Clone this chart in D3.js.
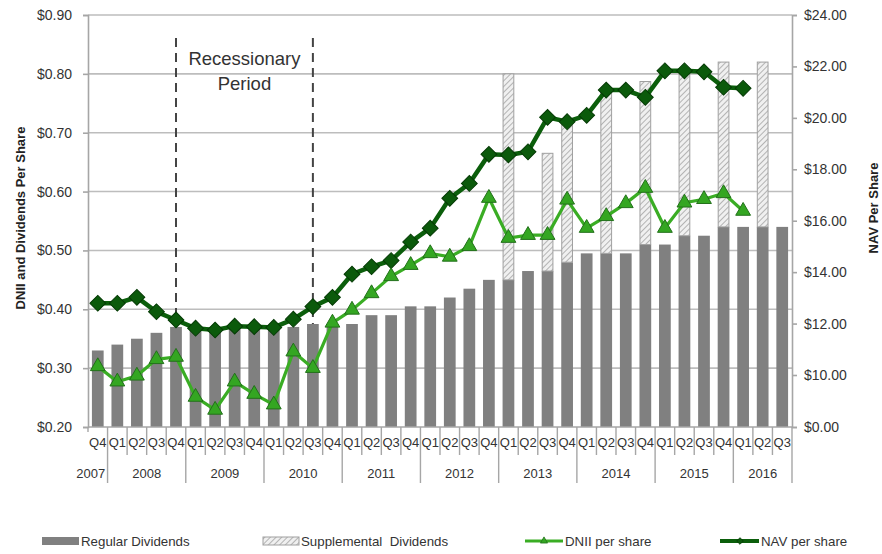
<!DOCTYPE html>
<html>
<head>
<meta charset="utf-8">
<script src="https://cdn.jsdelivr.net/npm/d3@7"></script>
<style>
  body { margin: 0; background: #fff; }
  svg { font-family: "Liberation Sans", Arial, sans-serif; }
</style>
</head>
<body>
<div id="chart"></div>
<script>
// Data
var quarters = ["Q4",
  "Q1","Q2","Q3","Q4", "Q1","Q2","Q3","Q4", "Q1","Q2","Q3","Q4",
  "Q1","Q2","Q3","Q4", "Q1","Q2","Q3","Q4", "Q1","Q2","Q3","Q4",
  "Q1","Q2","Q3","Q4", "Q1","Q2","Q3","Q4", "Q1","Q2","Q3"];
var years = ["2007","2008","2009","2010","2011","2012","2013","2014","2015","2016"];
var yearCounts = [1,4,4,4,4,4,4,4,4,3];

var regularDiv = [0.33,
  0.34,0.35,0.36,0.37, 0.37,0.37,0.37,0.37, 0.37,0.37,0.375,0.375,
  0.375,0.39,0.39,0.405, 0.405,0.42,0.435,0.45, 0.45,0.465,0.465,0.48,
  0.495,0.495,0.495,0.51, 0.51,0.525,0.525,0.54, 0.54,0.54,0.54];
var supplementalDiv = [0,
  0,0,0,0, 0,0,0,0, 0,0,0,0,
  0,0,0,0, 0,0,0,0, 0.35,0,0.20,0.24,
  0,0.275,0,0.277, 0,0.275,0,0.28, 0,0.28,0];
var dnii = [0.303,
  0.277,0.287,0.315,0.319, 0.251,0.229,0.277,0.256, 0.238,0.328,0.300,0.377,
  0.399,0.427,0.456,0.475, 0.495,0.489,0.507,0.589, 0.521,0.526,0.526,0.586,
  0.538,0.558,0.580,0.606, 0.538,0.581,0.587,0.597, 0.567];
var nav = [12.79,
  12.79,13.02,12.46,12.14, 11.82,11.75,11.90,11.88, 11.85,12.17,12.66,13.02,
  13.92,14.21,14.45,15.17, 15.71,16.87,17.45,18.58, 18.56,18.68,20.02,19.85,
  20.10,21.08,21.08,20.80, 21.83,21.83,21.79,21.19, 21.15];

var leftTicks = [0.2,0.3,0.4,0.5,0.6,0.7,0.8,0.9];
var rightTicks = [0,10,12,14,16,18,20,22,24];
var recession = [4, 11]; // 2008 Q4 to 2010 Q3

var margin = {top: 15, right: 90, bottom: 127, left: 88},
    width = 882 - margin.left - margin.right,
    height = 554 - margin.top - margin.bottom;

var svg = d3.select("#chart").append("svg")
    .attr("width", 882)
    .attr("height", 554);

var defs = svg.append("defs");
var pat = defs.append("pattern")
    .attr("id", "hatch")
    .attr("patternUnits", "userSpaceOnUse")
    .attr("width", 4).attr("height", 4)
    .attr("patternTransform", "rotate(45)");
pat.append("rect").attr("width", 4).attr("height", 4).attr("fill", "#f0f0f0");
pat.append("line").attr("x1", 0).attr("y1", 0).attr("x2", 0).attr("y2", 4)
    .attr("stroke", "#a3a3a3").attr("stroke-width", 1.6);

var g = svg.append("g")
    .attr("transform", "translate(" + margin.left + "," + margin.top + ")");

var idx = d3.range(quarters.length);
var x = d3.scaleBand().domain(idx).range([0, width]).paddingInner(0.4).paddingOuter(0.2);
var yL = d3.scaleLinear().domain([0.2, 0.9]).range([height, 0]);
// right axis is broken: $0 sits where $8 would be
var yR = d3.scaleLinear().domain([0, 10, 24]).range([height, height - 52, 0]);

// gridlines
g.append("g").selectAll("line")
    .data(leftTicks.slice(1))
    .enter().append("line")
    .attr("x1", 0).attr("x2", width)
    .attr("y1", function(d) { return yL(d); })
    .attr("y2", function(d) { return yL(d); })
    .attr("stroke", "#bdbdbd").attr("stroke-width", 1.6);

// recession dashed lines
recession.forEach(function(i) {
    g.append("line")
        .attr("x1", x(i) + x.bandwidth() / 2).attr("x2", x(i) + x.bandwidth() / 2)
        .attr("y1", 23).attr("y2", height)
        .attr("stroke", "#444").attr("stroke-width", 2)
        .attr("stroke-dasharray", "9,6");
});
var recMid = (x(recession[0]) + x(recession[1])) / 2 + x.bandwidth() / 2;
g.append("text").attr("x", recMid).attr("y", 50)
    .attr("text-anchor", "middle").style("font-size", "18.5px").style("fill", "#333")
    .text("Recessionary");
g.append("text").attr("x", recMid).attr("y", 75)
    .attr("text-anchor", "middle").style("font-size", "18.5px").style("fill", "#333")
    .text("Period");

// regular bars
g.append("g").selectAll("rect")
    .data(idx)
    .enter().append("rect")
    .attr("x", function(i) { return x(i); })
    .attr("width", x.bandwidth())
    .attr("y", function(i) { return yL(regularDiv[i]); })
    .attr("height", function(i) { return height - yL(regularDiv[i]); })
    .attr("fill", "#808080");

// supplemental bars stacked on top
g.append("g").selectAll("rect")
    .data(idx.filter(function(i) { return supplementalDiv[i] > 0; }))
    .enter().append("rect")
    .attr("x", function(i) { return x(i) + 0.5; })
    .attr("width", x.bandwidth() - 1)
    .attr("y", function(i) { return yL(regularDiv[i] + supplementalDiv[i]); })
    .attr("height", function(i) { return yL(regularDiv[i]) - yL(regularDiv[i] + supplementalDiv[i]); })
    .attr("fill", "url(#hatch)")
    .attr("stroke", "#a0a0a0").attr("stroke-width", 1);

var cx = function(i) { return x(i) + x.bandwidth() / 2; };

// DNII line
var dniiLine = d3.line().x(function(d, i) { return cx(i); }).y(function(d) { return yL(d); });
g.append("path").datum(dnii)
    .attr("d", dniiLine)
    .attr("fill", "none").attr("stroke", "#3aad24").attr("stroke-width", 3.2);

// NAV line
var navLine = d3.line().x(function(d, i) { return cx(i); }).y(function(d) { return yR(d); });
g.append("path").datum(nav)
    .attr("d", navLine)
    .attr("fill", "none").attr("stroke", "#0b5e0b").attr("stroke-width", 4.5);

// NAV diamonds
var diamond = d3.symbol().type(d3.symbolSquare).size(125);
g.append("g").selectAll("path")
    .data(nav)
    .enter().append("path")
    .attr("d", diamond)
    .attr("transform", function(d, i) { return "translate(" + cx(i) + "," + yR(d) + ") rotate(45)"; })
    .attr("fill", "#0b5a0b").attr("stroke", "#053a05").attr("stroke-width", 1);

// DNII triangles
var tri = d3.symbol().type(d3.symbolTriangle).size(95);
g.append("g").selectAll("path")
    .data(dnii)
    .enter().append("path")
    .attr("d", tri)
    .attr("transform", function(d, i) { return "translate(" + cx(i) + "," + yL(d) + ")"; })
    .attr("fill", "#34a622").attr("stroke", "#22701a").attr("stroke-width", 1);

// left axis
var axL = g.append("g")
    .call(d3.axisLeft(yL).tickValues(leftTicks).tickSize(5).tickPadding(11)
        .tickFormat(function(d) { return "$" + d3.format(".2f")(d); }));
// right axis
var axR = g.append("g")
    .attr("transform", "translate(" + width + ",0)")
    .call(d3.axisRight(yR).tickValues(rightTicks).tickSize(5).tickPadding(7)
        .tickFormat(function(d) { return "$" + d3.format(".2f")(d); }));
[axL, axR].forEach(function(a) {
    a.select(".domain").attr("stroke", "#a6a6a6").attr("stroke-width", 1.6);
    a.selectAll(".tick line").attr("stroke", "#a6a6a6").attr("stroke-width", 1.6);
    a.selectAll(".tick text").style("font-size", "14px").style("fill", "#333")
        .style("font-family", "'Liberation Sans', Arial, sans-serif");
});

// x axis line
g.append("line").attr("x1", 0).attr("x2", width).attr("y1", height).attr("y2", height)
    .attr("stroke", "#a6a6a6").attr("stroke-width", 1.6);

// quarter separators and labels
var step = x.step();
var xa = g.append("g").attr("transform", "translate(0," + height + ")");
var yearStarts = [0];
yearCounts.forEach(function(c, k) { yearStarts.push(yearStarts[k] + c); });
idx.concat([quarters.length]).forEach(function(i) {
    var isYear = yearStarts.indexOf(i) >= 0;
    var len = i === 0 ? 5 : (isYear ? 56 : 28);
    xa.append("line")
        .attr("x1", i * step).attr("x2", i * step)
        .attr("y1", 0).attr("y2", len)
        .attr("stroke", "#a6a6a6").attr("stroke-width", 1.4);
});
xa.selectAll("text.q")
    .data(idx)
    .enter().append("text")
    .attr("class", "q")
    .attr("x", function(i) { return cx(i); })
    .attr("y", 20)
    .attr("text-anchor", "middle")
    .style("font-size", "13px").style("fill", "#333")
    .text(function(i) { return quarters[i]; });
xa.selectAll("text.yr")
    .data(years)
    .enter().append("text")
    .attr("class", "yr")
    .attr("x", function(d, k) { return (yearStarts[k] + yearCounts[k] / 2) * step - (k === 0 ? 7 : 0); })
    .attr("y", 51)
    .attr("text-anchor", "middle")
    .style("font-size", "13px").style("fill", "#333")
    .text(function(d) { return d; });

// axis titles
svg.append("text")
    .attr("transform", "translate(20,218) rotate(-90)")
    .attr("dy", "0.35em")
    .attr("text-anchor", "middle")
    .style("font-size", "13px").style("font-weight", "bold").style("fill", "#222")
    .text("DNII and Dividends Per Share");
svg.append("text")
    .attr("transform", "translate(873,208) rotate(-90)")
    .attr("dy", "0.35em")
    .attr("text-anchor", "middle")
    .style("font-size", "13px").style("font-weight", "bold").style("fill", "#222")
    .text("NAV Per Share");

// legend
var lg = svg.append("g").attr("transform", "translate(0,541)");
lg.append("rect").attr("x", 42).attr("y", -4).attr("width", 37).attr("height", 8).attr("fill", "#808080");
lg.append("text").attr("x", 81).attr("dy", "0.35em").style("font-size", "13.3px").style("fill", "#333")
    .text("Regular Dividends");
lg.append("rect").attr("x", 263).attr("y", -4).attr("width", 36).attr("height", 8)
    .attr("fill", "url(#hatch)").attr("stroke", "#a0a0a0");
lg.append("text").attr("x", 301).attr("dy", "0.35em").style("font-size", "13.3px").style("fill", "#333")
    .style("white-space", "pre")
    .text("Supplemental  Dividends");
lg.append("line").attr("x1", 525).attr("x2", 563).attr("y1", 0).attr("y2", 0)
    .attr("stroke", "#3aad24").attr("stroke-width", 3);
lg.append("path").attr("d", d3.symbol().type(d3.symbolTriangle).size(22))
    .attr("transform", "translate(544,0)")
    .attr("fill", "#34a622").attr("stroke", "#22701a").attr("stroke-width", 0.8);
lg.append("text").attr("x", 565).attr("dy", "0.35em").style("font-size", "13.3px").style("fill", "#333")
    .text("DNII per share");
lg.append("line").attr("x1", 720).attr("x2", 759).attr("y1", 0).attr("y2", 0)
    .attr("stroke", "#0b5e0b").attr("stroke-width", 4);
lg.append("path").attr("d", d3.symbol().type(d3.symbolSquare).size(22))
    .attr("transform", "translate(740,0) rotate(45)")
    .attr("fill", "#0b5a0b").attr("stroke", "#053a05").attr("stroke-width", 0.8);
lg.append("text").attr("x", 761).attr("dy", "0.35em").style("font-size", "13.3px").style("fill", "#333")
    .text("NAV per share");
</script>
</body>
</html>
